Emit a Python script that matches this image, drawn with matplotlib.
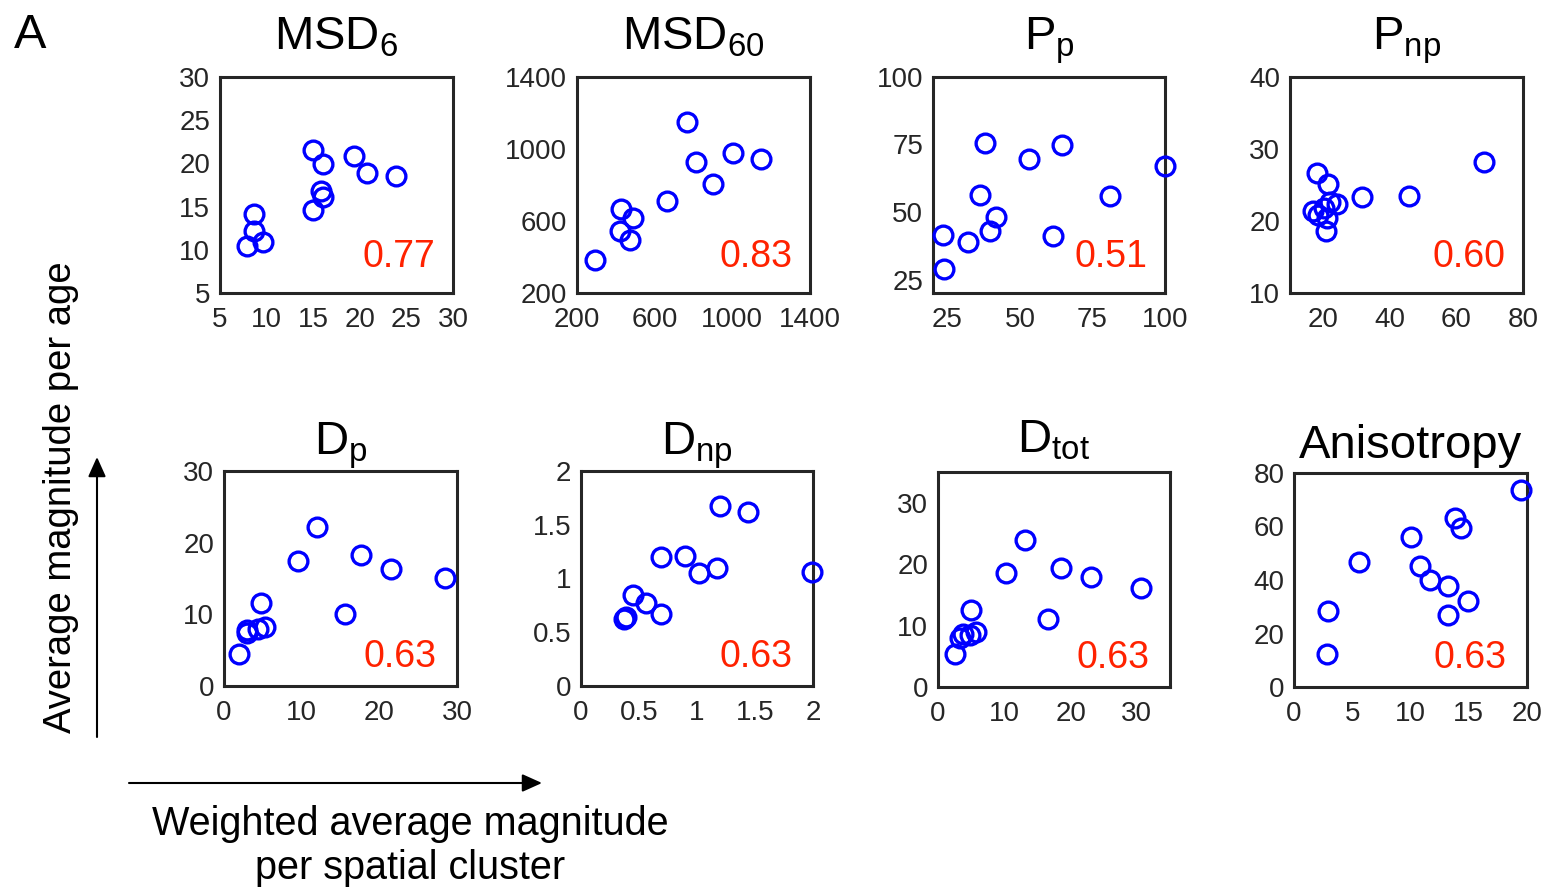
import matplotlib
matplotlib.use('Agg')
import matplotlib.pyplot as plt
from matplotlib.patches import FancyArrowPatch
from matplotlib.ticker import FormatStrFormatter

plt.rcParams['font.family'] = ['Liberation Sans', 'DejaVu Sans']
plt.rcParams['mathtext.fontset'] = 'custom'
plt.rcParams['mathtext.rm'] = 'Liberation Sans'
plt.rcParams['mathtext.it'] = 'Liberation Sans:italic'

# weighted magnitude per spatial cluster (x) vs magnitude per age (y)
msd6_x = [15.0, 16.0, 19.4, 20.8, 23.9, 15.8, 16.0, 15.0, 8.6, 8.6, 7.9, 9.6]
msd6_y = [21.5, 19.9, 20.9, 18.9, 18.5, 16.8, 16.1, 14.6, 14.2, 12.2, 10.4, 10.9]

msd60_x = [767, 815, 1001, 1147, 901, 666, 429, 489, 424, 475, 294]
msd60_y = [1151, 929, 979, 944, 806, 711, 665, 618, 544, 497, 383]

pp_x = [37.8, 64.5, 53.1, 100.0, 36.3, 81.0, 41.7, 39.8, 61.4, 23.3, 32.2, 23.8]
pp_y = [75.6, 75.0, 69.7, 67.0, 56.2, 55.8, 48.0, 42.9, 41.2, 41.6, 38.8, 28.8]

pnp_x = [68.3, 18.2, 21.5, 31.7, 45.8, 24.0, 22.0, 17.0, 18.5, 21.0, 20.8, 20.3]
pnp_y = [28.2, 26.7, 25.1, 23.3, 23.5, 22.4, 22.6, 21.4, 20.8, 20.4, 18.6, 21.8]

dp_x = [12.0, 9.5, 17.6, 21.5, 28.5, 4.8, 15.6, 5.3, 4.4, 2.9, 3.0, 1.9]
dp_y = [22.2, 17.5, 18.3, 16.3, 15.1, 11.6, 10.0, 8.3, 7.9, 7.4, 7.8, 4.5]

dnp_x = [1.20, 1.44, 0.69, 0.90, 1.02, 1.17, 1.99, 0.45, 0.56, 0.69, 0.39, 0.37]
dnp_y = [1.67, 1.62, 1.20, 1.21, 1.05, 1.10, 1.06, 0.85, 0.77, 0.67, 0.64, 0.62]

dtot_x = [13.2, 10.2, 18.5, 23.1, 30.7, 5.0, 16.6, 5.8, 4.8, 3.7, 3.3, 2.5]
dtot_y = [23.9, 18.6, 19.4, 17.9, 16.1, 12.5, 11.1, 8.9, 8.4, 8.6, 7.9, 5.3]

aniso_x = [19.5, 13.8, 14.3, 10.0, 5.6, 10.8, 11.7, 13.2, 14.9, 13.25, 2.9, 2.85]
aniso_y = [73.8, 63.3, 59.6, 56.1, 46.7, 45.1, 39.9, 37.8, 32.1, 26.8, 28.3, 12.2]

titles = [r'$\mathrm{MSD}_{\mathrm{6}}$', r'$\mathrm{MSD}_{\mathrm{60}}$',
          r'$\mathrm{P}_{\mathrm{p}}$', r'$\mathrm{P}_{\mathrm{np}}$',
          r'$\mathrm{D}_{\mathrm{p}}$', r'$\mathrm{D}_{\mathrm{np}}$',
          r'$\mathrm{D}_{\mathrm{tot}}$', 'Anisotropy']
r_values = ['0.77', '0.83', '0.51', '0.60', '0.63', '0.63', '0.63', '0.63']

xs = [msd6_x, msd60_x, pp_x, pnp_x, dp_x, dnp_x, dtot_x, aniso_x]
ys = [msd6_y, msd60_y, pp_y, pnp_y, dp_y, dnp_y, dtot_y, aniso_y]

xlims = [(5, 30), (200, 1400), (20, 100), (10, 80), (0, 30), (0, 2), (0, 35), (0, 20)]
ylims = [(5, 30), (200, 1400), (20, 100), (10, 40), (0, 30), (0, 2), (0, 35), (0, 80)]
xticks = [[5, 10, 15, 20, 25, 30], [200, 600, 1000, 1400], [25, 50, 75, 100],
          [20, 40, 60, 80], [0, 10, 20, 30], [0, 0.5, 1, 1.5, 2], [0, 10, 20, 30],
          [0, 5, 10, 15, 20]]
yticks = [[5, 10, 15, 20, 25, 30], [200, 600, 1000, 1400], [25, 50, 75, 100],
          [10, 20, 30, 40], [0, 10, 20, 30], [0, 0.5, 1, 1.5, 2], [0, 10, 20, 30],
          [0, 20, 40, 60, 80]]

W, H = 1546, 891
fig = plt.figure(figsize=(W / 100, H / 100), dpi=100)

# axes boxes in pixels: left, top, right, bottom
boxes = [(220, 77, 453, 293), (577, 77, 810, 293), (933, 77, 1165, 293), (1290, 77, 1523, 293),
         (224, 471, 457, 686), (581, 471, 813, 686), (938, 472, 1170, 687), (1294, 473, 1527, 687)]
title_pads = [20, 20, 20, 20, 8.5, 8.5, 14, 11]
dark = '#262626'

for i in range(8):
    l, t, r, b = boxes[i]
    ax = fig.add_axes([l / W, 1 - b / H, (r - l) / W, (b - t) / H])
    ax.plot(xs[i], ys[i], 'o', mfc='none', mec='#0000ff', ms=13.5, mew=2.4,
            clip_on=False, zorder=5)
    ax.set_xlim(xlims[i])
    ax.set_ylim(ylims[i])
    ax.set_xticks(xticks[i])
    ax.set_yticks(yticks[i])
    ax.xaxis.set_major_formatter(FormatStrFormatter('%g'))
    ax.yaxis.set_major_formatter(FormatStrFormatter('%g'))
    ax.tick_params(length=0, labelsize=20, colors=dark)
    ax.tick_params(axis='x', pad=10)
    ax.tick_params(axis='y', pad=7)
    for s in ax.spines.values():
        s.set_linewidth(2.2)
        s.set_color(dark)
    ax.set_title(titles[i], fontsize=34, pad=title_pads[i], color='k')
    ry = 0.12 if i < 4 else 0.09
    rx = 0.923 if i < 4 else 0.91
    ax.text(rx, ry, r_values[i], transform=ax.transAxes, ha='right', va='baseline',
            fontsize=27, color='#ff2200')

fig.text(14 / W, 1 - 48 / H, 'A', fontsize=35, ha='left', va='baseline')

fig.text(61 / W, 1 - 497 / H, 'Average magnitude per age', rotation=90,
         fontsize=27.5, ha='center', va='center')
fig.text(410 / W, 1 - 835 / H, 'Weighted average magnitude',
         fontsize=28.5, ha='center', va='baseline')
fig.text(410 / W, 1 - 879 / H, 'per spatial cluster',
         fontsize=28.5, ha='center', va='baseline')

arrow_style = '-|>,head_length=0.6,head_width=0.27'
fig.add_artist(FancyArrowPatch((97 / W, 1 - 737 / H), (97 / W, 1 - 457 / H),
                               transform=fig.transFigure, arrowstyle=arrow_style,
                               mutation_scale=20, lw=1.5, color='k',
                               shrinkA=0, shrinkB=0))
fig.add_artist(FancyArrowPatch((129 / W, 1 - 783 / H), (542 / W, 1 - 783 / H),
                               transform=fig.transFigure, arrowstyle=arrow_style,
                               mutation_scale=20, lw=1.5, color='k',
                               shrinkA=0, shrinkB=0))

fig.savefig('out.png', dpi=100)
